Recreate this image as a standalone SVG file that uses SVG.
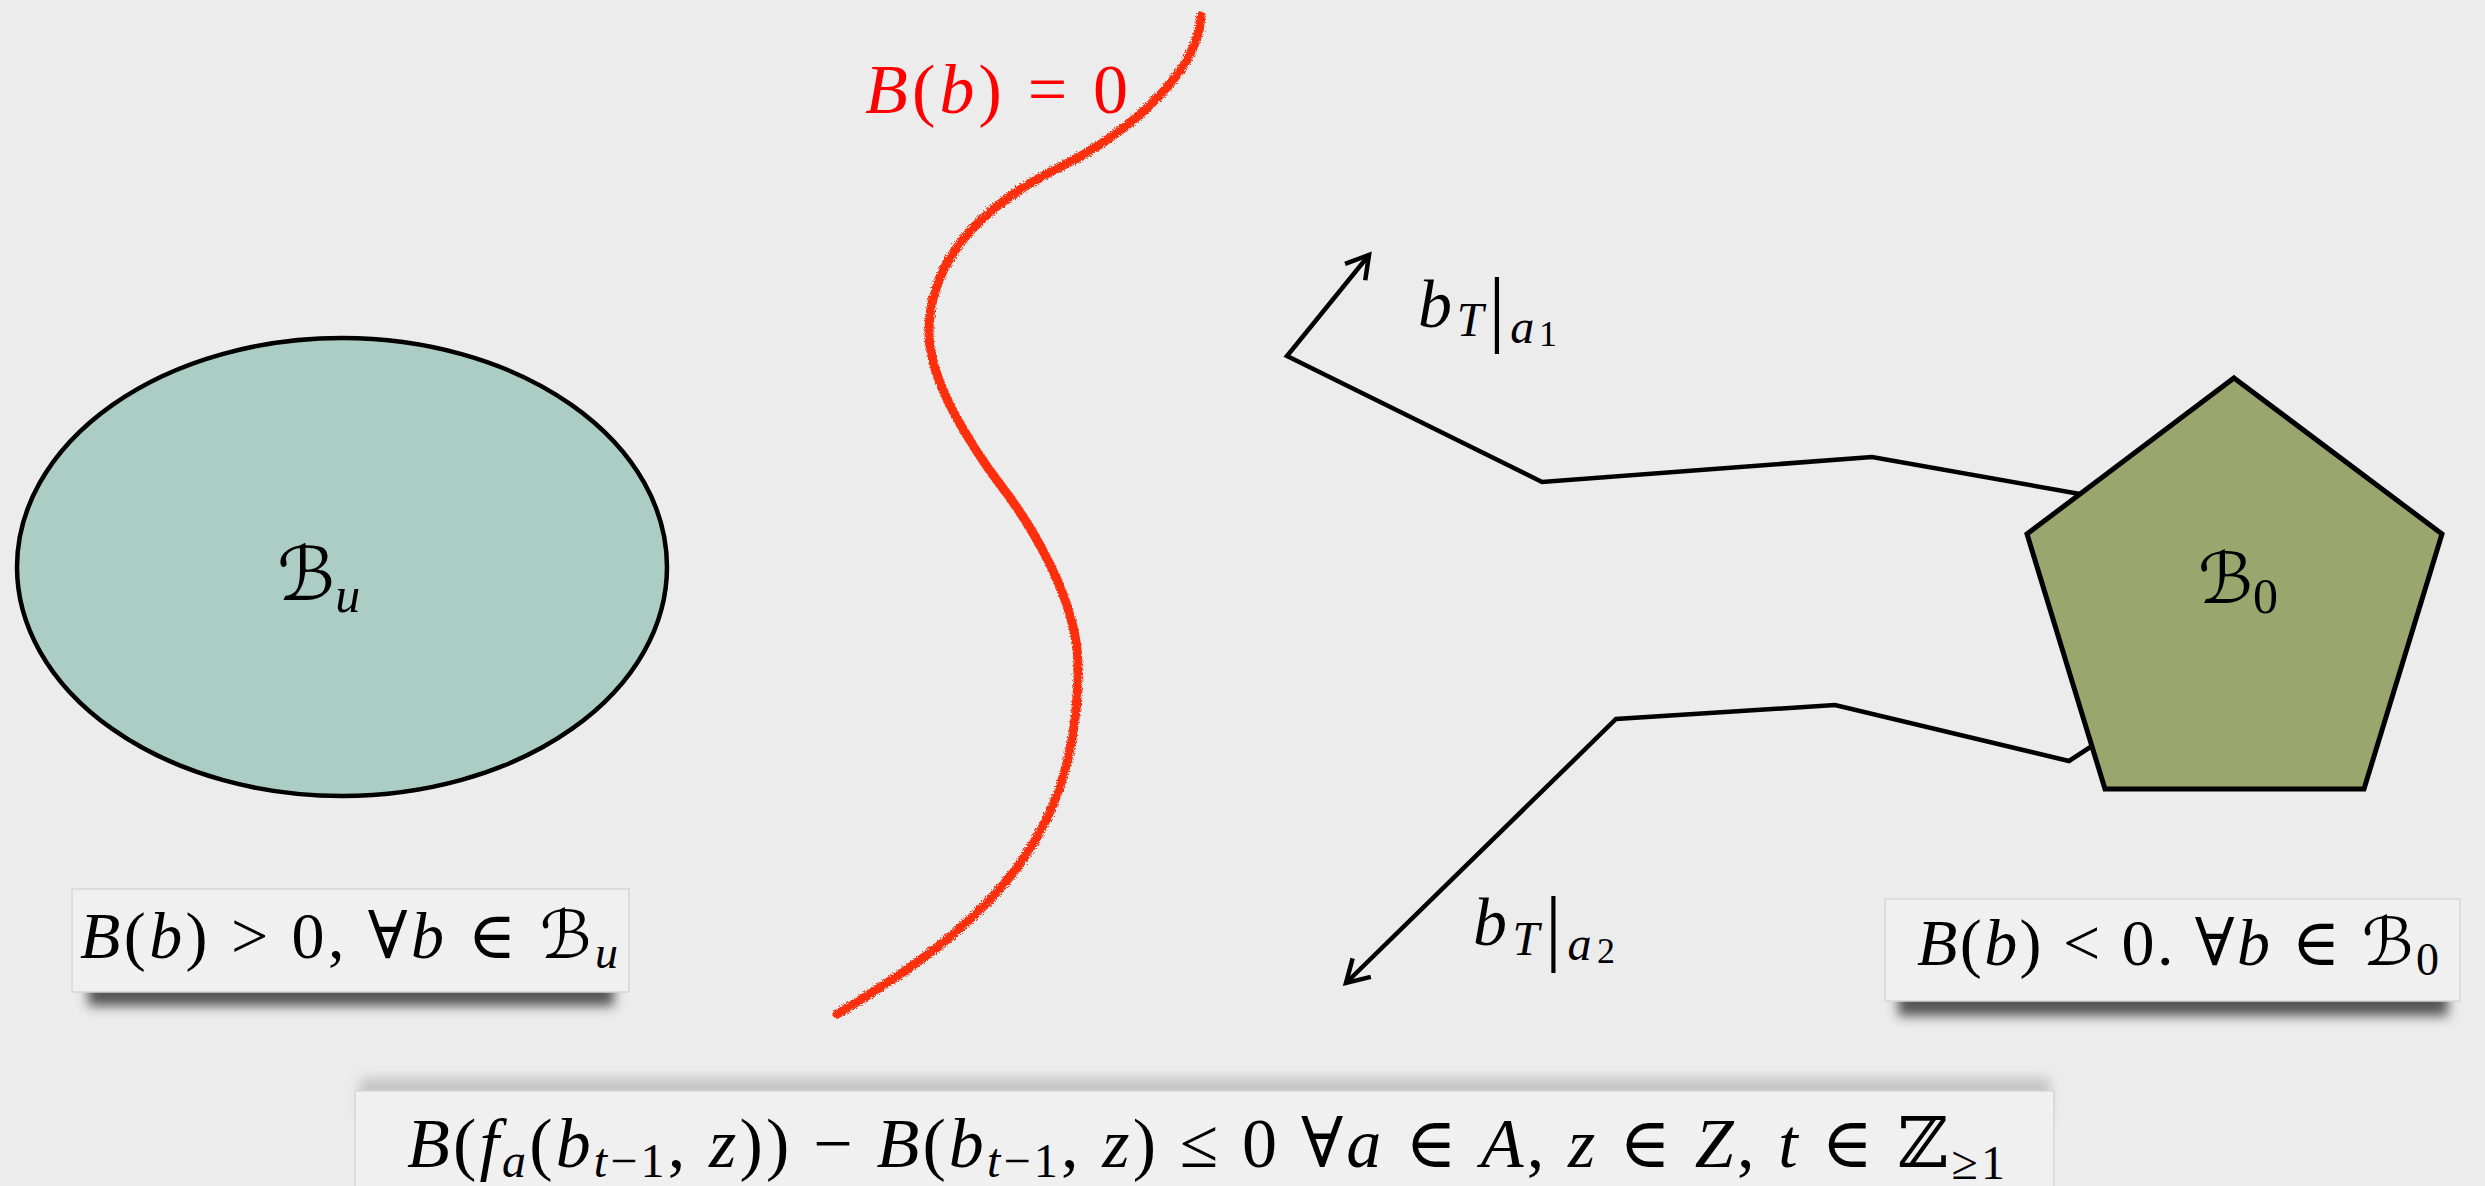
<svg xmlns="http://www.w3.org/2000/svg" width="2485" height="1186" viewBox="0 0 2485 1186">
<style>
.m{font-family:"Liberation Serif","DejaVu Serif",serif;fill:#000}
.i{font-style:italic}
.cal{font-family:"DejaVu Serif","DejaVu Sans",serif;font-style:italic}
.box{fill:#f0f0f0;stroke:#d6d6d6;stroke-width:1.5}
.shadow{fill:#333333;opacity:.8}
.ln{fill:none;stroke:#000;stroke-width:4.5;stroke-linejoin:miter}
</style>
<defs>
<marker id="arr" markerUnits="userSpaceOnUse" viewBox="-30 -20 40 40" refX="0" refY="0" markerWidth="40" markerHeight="40" orient="auto">
<path d="M-22,-13 L0,0 L-22,13" fill="none" stroke="#000" stroke-width="4.5"/>
</marker>
<filter id="blur" x="-10%" y="-100%" width="120%" height="300%"><feGaussianBlur stdDeviation="6"/></filter>
<filter id="rough" x="-10%" y="-10%" width="120%" height="120%">
<feTurbulence type="fractalNoise" baseFrequency="0.9" numOctaves="2" result="n"/>
<feDisplacementMap in="SourceGraphic" in2="n" scale="5"/>
</filter>
</defs>
<rect width="2485" height="1186" fill="#ececec"/>

<g id="connectors">
<polyline class="ln" points="2080,494 1872,457 1542,482 1287,356 1369,255" marker-end="url(#arr)"/>
<polyline class="ln" points="2092,746 2069,761 1835,705 1616,719 1346,983" marker-end="url(#arr)"/>
</g>

<g id="barrier">
<path d="M1201,16 C1197,80 1115,140 1062,166 C987,203 929,255 929,333 C929,383 975,451 999,483 C1030,523 1078,600 1078,666 C1078,830 1000,918 837,1014" fill="none" stroke="#ff2d0a" stroke-width="9" stroke-linecap="round" filter="url(#rough)"/>
<text class="m" x="865" y="113" font-size="70" style="fill:#ff0000" textLength="263" lengthAdjust="spacing"><tspan class="i">B</tspan>(<tspan class="i">b</tspan>) = 0</text>
</g>

<g id="Bu">
<ellipse cx="342" cy="567" rx="325" ry="229" fill="#abcdc4" stroke="#000" stroke-width="4.5"/>
<text class="m" x="277" y="600" font-size="74"><tspan class="cal">ℬ</tspan><tspan class="i" font-size="50" dy="12">u</tspan></text>
</g>

<g id="B0">
<polygon points="2234,378 2442,534 2364,789 2105,789 2027,534" fill="#99a66d" stroke="#000" stroke-width="5"/>
<text class="m" x="2198" y="603" font-size="70"><tspan class="cal">ℬ</tspan><tspan font-size="50" dy="10">0</tspan></text>
</g>

<g id="label-a1">
<text class="m" x="1418" y="327" font-size="68" textLength="139" lengthAdjust="spacing"><tspan class="i">b</tspan><tspan class="i" font-size="48" dy="9">T</tspan><tspan font-size="84" dy="0">|</tspan><tspan class="i" font-size="48" dy="7">a</tspan><tspan font-size="36" dy="3">1</tspan></text>
</g>

<g id="label-a2">
<text class="m" x="1473" y="945" font-size="68" textLength="142" lengthAdjust="spacing"><tspan class="i">b</tspan><tspan class="i" font-size="48" dy="10">T</tspan><tspan font-size="84" dy="0">|</tspan><tspan class="i" font-size="48" dy="5">a</tspan><tspan font-size="36" dy="3">2</tspan></text>
</g>

<g id="cond-unsafe">
<rect class="shadow" x="88" y="974" width="526" height="32" filter="url(#blur)"/>
<rect class="box" x="72" y="889" width="557" height="103"/>
<text class="m" x="80" y="958" font-size="66" textLength="538" lengthAdjust="spacing"><tspan class="i">B</tspan>(<tspan class="i">b</tspan>) &gt; 0,  ∀<tspan class="i">b</tspan> ∈ <tspan class="cal">ℬ</tspan><tspan class="i" font-size="46" dy="10">u</tspan></text>
</g>

<g id="cond-init">
<rect class="shadow" x="1898" y="982" width="550" height="34" filter="url(#blur)"/>
<rect class="box" x="1885" y="899" width="575" height="102"/>
<text class="m" x="1917" y="965" font-size="66" textLength="522" lengthAdjust="spacing"><tspan class="i">B</tspan>(<tspan class="i">b</tspan>) &lt; 0. ∀<tspan class="i">b</tspan> ∈ <tspan class="cal">ℬ</tspan><tspan font-size="46" dy="10">0</tspan></text>
</g>

<g id="cond-step">
<rect x="360" y="1078" width="1690" height="40" fill="#aaaaaa" filter="url(#blur)" opacity=".6"/>
<rect class="box" x="355" y="1091" width="1699" height="110"/>
<text class="m" x="407" y="1167" font-size="70" textLength="1598" lengthAdjust="spacing"><tspan class="i">B</tspan>(<tspan class="i">f</tspan><tspan class="i" font-size="48" dy="10">a</tspan><tspan dy="-10">(</tspan><tspan class="i">b</tspan><tspan font-size="48" dy="10"><tspan class="i">t</tspan>−1</tspan><tspan dy="-10">, </tspan><tspan class="i">z</tspan>)) − <tspan class="i">B</tspan>(<tspan class="i">b</tspan><tspan font-size="48" dy="10"><tspan class="i">t</tspan>−1</tspan><tspan dy="-10">, </tspan><tspan class="i">z</tspan>) ≤ 0 ∀<tspan class="i">a</tspan> ∈ <tspan class="i">A</tspan>, <tspan class="i">z</tspan> ∈ <tspan class="i">Z</tspan>, <tspan class="i">t</tspan> ∈ ℤ<tspan font-size="48" dy="12">≥1</tspan></text>
</g>
</svg>
